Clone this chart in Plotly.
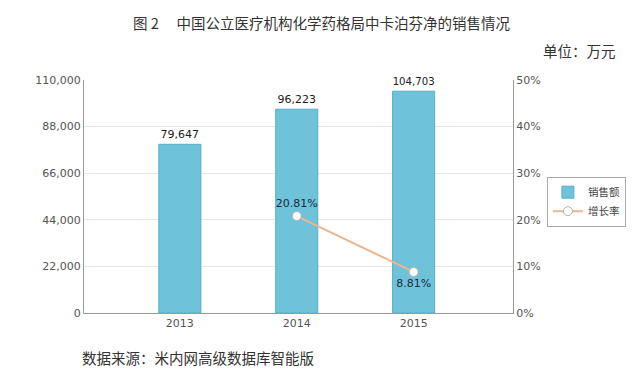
import plotly.graph_objects as go

years = ["2013", "2014", "2015"]
sales = [79647, 96223, 104703]
growth_years = ["2014", "2015"]
growth = [20.81, 8.81]
sales_labels = ["79,647", "96,223", "104,703"]
growth_labels = ["20.81%", "8.81%"]
left_ticks = [0, 22000, 44000, 66000, 88000, 110000]
left_tick_text = ["0", "22,000", "44,000", "66,000", "88,000", "110,000"]
right_ticks = [0, 10, 20, 30, 40, 50]
right_tick_text = ["0%", "10%", "20%", "30%", "40%", "50%"]

fig = go.Figure()
fig.add_trace(go.Bar(
    x=years, y=sales, name="销售额", width=0.36,
    marker=dict(color="#6EC3DB", line=dict(color="#55AECA", width=1)),
    text=sales_labels, textposition="outside",
    textfont=dict(size=11, color="#1a1a1a", family="DejaVu Sans"),
    cliponaxis=False,
))
fig.add_trace(go.Scatter(
    x=growth_years, y=growth, name="增长率", yaxis="y2", mode="lines+markers+text",
    line=dict(color="#EDB48E", width=2),
    marker=dict(size=9, color="white", line=dict(color="#B0B0B0", width=1)),
    text=growth_labels, textposition=["top center", "bottom center"],
    textfont=dict(size=11, color="#1a2a3a", family="DejaVu Sans"),
    cliponaxis=False,
))

# page body has an 8px margin; compensate so the plot area sits at x 84-513, y 80-313
fig.update_layout(
    width=640, height=378,
    margin=dict(l=76, r=135, t=72, b=73),
    paper_bgcolor="white", plot_bgcolor="white",
    font=dict(family="DejaVu Sans", size=11, color="#555555"),
    showlegend=True,
    legend=dict(x=1.079, y=0.585, xanchor="left", yanchor="top",
                bordercolor="#aaaaaa", borderwidth=1, bgcolor="white",
                font=dict(size=10.5, color="#444444", family="Noto Sans CJK SC"),
                itemwidth=30, tracegroupgap=0),
    xaxis=dict(type="category", range=[-0.82, 2.85], showgrid=False,
               showline=True, linecolor="#999999", linewidth=1, mirror=False,
               tickfont=dict(size=11, color="#555555"), ticks=""),
    yaxis=dict(range=[0, 110000], tickvals=left_ticks, ticktext=left_tick_text,
               showgrid=True, gridcolor="#E6E6E6", showline=True, linecolor="#999999",
               linewidth=1, mirror=True, zeroline=False, ticks=""),
    yaxis2=dict(range=[0, 50], tickvals=right_ticks, ticktext=right_tick_text,
                overlaying="y", side="right", showgrid=False, showline=True,
                linecolor="#999999", linewidth=1, zeroline=False, ticks=""),
)

fig.add_annotation(text="图 2　 中国公立医疗机构化学药格局中卡泊芬净的销售情况", xref="paper", yref="paper",
                   x=(322 - 84) / 429, y=(313 - 22) / 233, xanchor="center", yanchor="middle",
                   showarrow=False, font=dict(size=14.5, color="#333333", family="Noto Sans CJK SC"))
fig.add_annotation(text="单位：万元", xref="paper", yref="paper",
                   x=(618 - 84) / 429, y=(313 - 50) / 233, xanchor="right", yanchor="middle",
                   showarrow=False, font=dict(size=14.5, color="#333333", family="Noto Sans CJK SC"))
fig.add_annotation(text="数据来源：米内网高级数据库智能版", xref="paper", yref="paper",
                   x=(80 - 84) / 429, y=(313 - 357) / 233, xanchor="left", yanchor="middle",
                   showarrow=False, font=dict(size=14.5, color="#333333", family="Noto Sans CJK SC"))

fig.write_html("out.html")
